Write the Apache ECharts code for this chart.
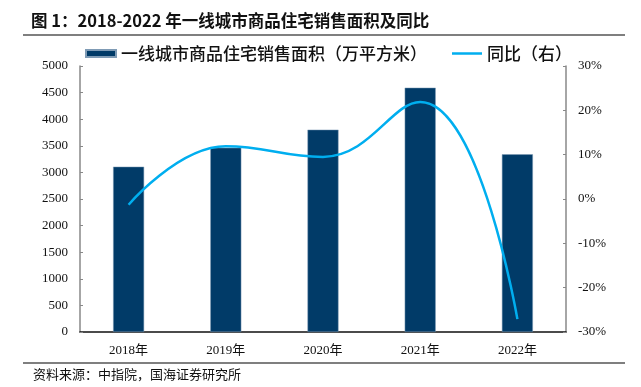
<!DOCTYPE html>
<html>
<head>
<meta charset="utf-8">
<script src="https://cdn.jsdelivr.net/npm/echarts@6/dist/echarts.min.js"></script>
<style>
html,body{margin:0;padding:0;background:#fff;}
#chart{width:641px;height:387px;}
</style>
</head>
<body>
<div id="chart"></div>
<script>
const categories = ['2018年', '2019年', '2020年', '2021年', '2022年'];
const salesArea = [3107, 3464, 3803, 4592, 3340];
const yoy = [-1.3, 11.9, 9.5, 21.9, -27.1];
const leftTicks = [0, 5000, 500];
const rightTicks = [-30, 30, 10];
const titleText = '图 1：2018-2022 年一线城市商品住宅销售面积及同比';
const sourceText = '资料来源：中指院，国海证券研究所';
const barName = '一线城市商品住宅销售面积（万平方米）';
const lineName = '同比（右）';

const cjk = '"Noto Sans CJK SC", "Noto Sans", sans-serif';
const serif = '"Liberation Serif", "Noto Sans CJK SC", serif';

const chart = echarts.init(document.getElementById('chart'), null, {renderer: 'canvas'});
chart.setOption({
  backgroundColor: '#fff',
  animation: false,
  title: {
    text: titleText,
    left: 31, top: 12, padding: 0,
    textStyle: {fontFamily: cjk, fontSize: 16.5, fontWeight: 'bold', color: '#111'}
  },
  legend: {
    left: 85, top: 45, padding: 0,
    itemWidth: 30, itemHeight: 7, itemGap: 25,
    symbolKeepAspect: true,
    textStyle: {fontFamily: cjk, fontSize: 17, fontWeight: 500, color: '#111'},
    data: [
      {name: barName, icon: 'rect'},
      {name: lineName, icon: 'path://M0,0L30,0L30,2.5L0,2.5Z', itemStyle: {color: '#00AEEF'}}
    ]
  },
  grid: {left: 80, right: 75, top: 66, bottom: 55},
  xAxis: {
    type: 'category',
    data: categories,
    axisLine: {lineStyle: {color: '#111', width: 1.5}},
    axisTick: {show: false},
    axisLabel: {fontFamily: serif, fontSize: 13, color: '#111', margin: 12}
  },
  yAxis: [
    {
      type: 'value', min: leftTicks[0], max: leftTicks[1], interval: leftTicks[2],
      axisLine: {show: true, lineStyle: {color: '#888', width: 1.5}},
      axisTick: {show: true, inside: true, length: 3, lineStyle: {color: '#888'}},
      splitLine: {show: false},
      axisLabel: {fontFamily: serif, fontSize: 13, color: '#111', margin: 12, formatter: v => String(v)}
    },
    {
      type: 'value', min: rightTicks[0], max: rightTicks[1], interval: rightTicks[2],
      position: 'right',
      axisLine: {show: true, lineStyle: {color: '#888', width: 1.5}},
      axisTick: {show: true, inside: true, length: 3, lineStyle: {color: '#888'}},
      splitLine: {show: false},
      axisLabel: {fontFamily: serif, fontSize: 13, color: '#111', margin: 12, formatter: '{value}%'}
    }
  ],
  series: [
    {
      name: barName, type: 'bar', data: salesArea, yAxisIndex: 0,
      barWidth: 31,
      itemStyle: {color: '#013B68', borderColor: '#7f9bb5', borderWidth: 0.5}
    },
    {
      name: lineName, type: 'line', data: yoy, yAxisIndex: 1,
      smooth: 0.45, showSymbol: false, symbol: 'none',
      lineStyle: {color: '#00AEEF', width: 2.5},
      itemStyle: {color: '#00AEEF'}
    }
  ],
  graphic: [
    {type: 'line', shape: {x1: 23, y1: 35, x2: 625, y2: 35}, style: {stroke: '#555', lineWidth: 1.5}},
    {type: 'line', shape: {x1: 23, y1: 363, x2: 625, y2: 363}, style: {stroke: '#555', lineWidth: 1.5}},
    {type: 'text', left: 33, top: 368, style: {text: sourceText, font: '13px "Noto Sans CJK SC", sans-serif', fill: '#111'}}
  ]
});
</script>
</body>
</html>
